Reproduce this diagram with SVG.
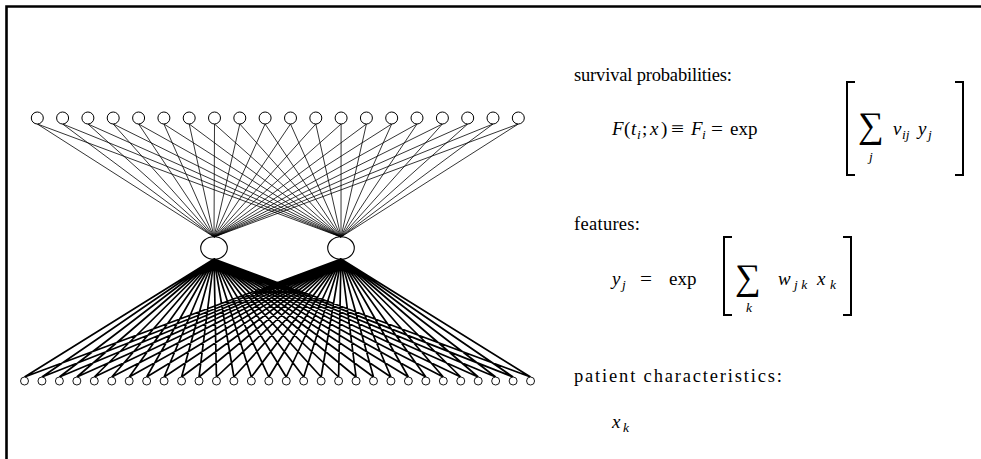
<svg xmlns="http://www.w3.org/2000/svg" width="981" height="459" viewBox="0 0 981 459">
<style>
.bg{fill:#fff}
.frame{stroke:#000;stroke-width:2.6;fill:none}
.out{fill:#fff;stroke:#000;stroke-width:1}
.hid{fill:none;stroke:#000;stroke-width:1.1}
.inp{fill:#fff;stroke:#000;stroke-width:0.9}
.wt{stroke:#000;stroke-width:0.8;fill:none}
.wb{stroke:#000;stroke-width:1.7;fill:none}
.br{stroke:#000;stroke-width:2;fill:none;stroke-linecap:square}
text{font-family:"Liberation Serif","Times New Roman",serif;fill:#000;font-size:19px}
.lbl{font-size:18.5px}
.it{font-style:italic}
.sub{font-style:italic;font-size:13.5px}
.sum{font-size:36px}
</style>
<rect class="bg" x="0" y="0" width="981" height="459"/>
<path class="frame" d="M6.5,459 V6.5 H981"/>
<g id="connectors">
<path class="wt" d="M37.3,124L214,237M37.3,124L341,237M62.6,124L214,237M62.6,124L341,237M87.9,124L214,237M87.9,124L341,237M113.2,124L214,237M113.2,124L341,237M138.6,124L214,237M138.6,124L341,237M163.9,124L214,237M163.9,124L341,237M189.2,124L214,237M189.2,124L341,237M214.5,124L214,237M214.5,124L341,237M239.8,124L214,237M239.8,124L341,237M265.1,124L214,237M265.1,124L341,237M290.5,124L214,237M290.5,124L341,237M315.8,124L214,237M315.8,124L341,237M341.1,124L214,237M341.1,124L341,237M366.4,124L214,237M366.4,124L341,237M391.7,124L214,237M391.7,124L341,237M417,124L214,237M417,124L341,237M442.4,124L214,237M442.4,124L341,237M467.7,124L214,237M467.7,124L341,237M493,124L214,237M493,124L341,237M518.3,124L214,237M518.3,124L341,237"/>
<path class="wb" d="M24.5,377L214,259M24.5,377L341,259M41.95,377L214,259M41.95,377L341,259M59.4,377L214,259M59.4,377L341,259M76.85,377L214,259M76.85,377L341,259M94.3,377L214,259M94.3,377L341,259M111.75,377L214,259M111.75,377L341,259M129.2,377L214,259M129.2,377L341,259M146.65,377L214,259M146.65,377L341,259M164.1,377L214,259M164.1,377L341,259M181.55,377L214,259M181.55,377L341,259M199,377L214,259M199,377L341,259M216.45,377L214,259M216.45,377L341,259M233.9,377L214,259M233.9,377L341,259M251.35,377L214,259M251.35,377L341,259M268.8,377L214,259M268.8,377L341,259M286.25,377L214,259M286.25,377L341,259M303.7,377L214,259M303.7,377L341,259M321.15,377L214,259M321.15,377L341,259M338.6,377L214,259M338.6,377L341,259M356.05,377L214,259M356.05,377L341,259M373.5,377L214,259M373.5,377L341,259M390.95,377L214,259M390.95,377L341,259M408.4,377L214,259M408.4,377L341,259M425.85,377L214,259M425.85,377L341,259M443.3,377L214,259M443.3,377L341,259M460.75,377L214,259M460.75,377L341,259M478.2,377L214,259M478.2,377L341,259M495.65,377L214,259M495.65,377L341,259M513.1,377L214,259M513.1,377L341,259M530.55,377L214,259M530.55,377L341,259"/>
</g>
<g id="out1"><circle class="out" cx="37.3" cy="118" r="6"/></g>
<g id="out2"><circle class="out" cx="62.6" cy="118" r="6"/></g>
<g id="out3"><circle class="out" cx="87.9" cy="118" r="6"/></g>
<g id="out4"><circle class="out" cx="113.2" cy="118" r="6"/></g>
<g id="out5"><circle class="out" cx="138.6" cy="118" r="6"/></g>
<g id="out6"><circle class="out" cx="163.9" cy="118" r="6"/></g>
<g id="out7"><circle class="out" cx="189.2" cy="118" r="6"/></g>
<g id="out8"><circle class="out" cx="214.5" cy="118" r="6"/></g>
<g id="out9"><circle class="out" cx="239.8" cy="118" r="6"/></g>
<g id="out10"><circle class="out" cx="265.1" cy="118" r="6"/></g>
<g id="out11"><circle class="out" cx="290.5" cy="118" r="6"/></g>
<g id="out12"><circle class="out" cx="315.8" cy="118" r="6"/></g>
<g id="out13"><circle class="out" cx="341.1" cy="118" r="6"/></g>
<g id="out14"><circle class="out" cx="366.4" cy="118" r="6"/></g>
<g id="out15"><circle class="out" cx="391.7" cy="118" r="6"/></g>
<g id="out16"><circle class="out" cx="417" cy="118" r="6"/></g>
<g id="out17"><circle class="out" cx="442.4" cy="118" r="6"/></g>
<g id="out18"><circle class="out" cx="467.7" cy="118" r="6"/></g>
<g id="out19"><circle class="out" cx="493" cy="118" r="6"/></g>
<g id="out20"><circle class="out" cx="518.3" cy="118" r="6"/></g>
<g id="hid1"><ellipse class="hid" cx="214" cy="248" rx="13.3" ry="11.3"/></g>
<g id="hid2"><ellipse class="hid" cx="341" cy="248" rx="13.3" ry="11.3"/></g>
<g id="in1"><circle class="inp" cx="24.5" cy="381" r="4"/></g>
<g id="in2"><circle class="inp" cx="41.95" cy="381" r="4"/></g>
<g id="in3"><circle class="inp" cx="59.4" cy="381" r="4"/></g>
<g id="in4"><circle class="inp" cx="76.85" cy="381" r="4"/></g>
<g id="in5"><circle class="inp" cx="94.3" cy="381" r="4"/></g>
<g id="in6"><circle class="inp" cx="111.75" cy="381" r="4"/></g>
<g id="in7"><circle class="inp" cx="129.2" cy="381" r="4"/></g>
<g id="in8"><circle class="inp" cx="146.65" cy="381" r="4"/></g>
<g id="in9"><circle class="inp" cx="164.1" cy="381" r="4"/></g>
<g id="in10"><circle class="inp" cx="181.55" cy="381" r="4"/></g>
<g id="in11"><circle class="inp" cx="199" cy="381" r="4"/></g>
<g id="in12"><circle class="inp" cx="216.45" cy="381" r="4"/></g>
<g id="in13"><circle class="inp" cx="233.9" cy="381" r="4"/></g>
<g id="in14"><circle class="inp" cx="251.35" cy="381" r="4"/></g>
<g id="in15"><circle class="inp" cx="268.8" cy="381" r="4"/></g>
<g id="in16"><circle class="inp" cx="286.25" cy="381" r="4"/></g>
<g id="in17"><circle class="inp" cx="303.7" cy="381" r="4"/></g>
<g id="in18"><circle class="inp" cx="321.15" cy="381" r="4"/></g>
<g id="in19"><circle class="inp" cx="338.6" cy="381" r="4"/></g>
<g id="in20"><circle class="inp" cx="356.05" cy="381" r="4"/></g>
<g id="in21"><circle class="inp" cx="373.5" cy="381" r="4"/></g>
<g id="in22"><circle class="inp" cx="390.95" cy="381" r="4"/></g>
<g id="in23"><circle class="inp" cx="408.4" cy="381" r="4"/></g>
<g id="in24"><circle class="inp" cx="425.85" cy="381" r="4"/></g>
<g id="in25"><circle class="inp" cx="443.3" cy="381" r="4"/></g>
<g id="in26"><circle class="inp" cx="460.75" cy="381" r="4"/></g>
<g id="in27"><circle class="inp" cx="478.2" cy="381" r="4"/></g>
<g id="in28"><circle class="inp" cx="495.65" cy="381" r="4"/></g>
<g id="in29"><circle class="inp" cx="513.1" cy="381" r="4"/></g>
<g id="in30"><circle class="inp" cx="530.55" cy="381" r="4"/></g>
<g id="labels">
<text class="lbl" x="574" y="81" textLength="158" lengthAdjust="spacing">survival probabilities:</text>
<text class="it" x="612" y="135">F</text>
<text x="624" y="135">(</text>
<text class="it" x="631" y="135">t</text>
<text class="sub" x="637" y="139">i</text>
<text x="642" y="135">;</text>
<text class="it" x="650" y="135">x</text>
<text x="661" y="135">)</text>
<text x="671" y="135" textLength="13" lengthAdjust="spacingAndGlyphs">≡</text>
<text class="it" x="691" y="135">F</text>
<text class="sub" x="702" y="139">i</text>
<text x="711" y="135" textLength="12" lengthAdjust="spacingAndGlyphs">=</text>
<text x="730" y="135">exp</text>
<path class="br" d="M854,82H847V175H854"/>
<text class="sum" x="858" y="137">∑</text>
<text class="sub" x="869" y="161">j</text>
<text class="it" x="893" y="135">v</text>
<text class="sub" x="902" y="139">ij</text>
<text class="it" x="918" y="135">y</text>
<text class="sub" x="928" y="139">j</text>
<path class="br" d="M956,82H963V175H956"/>
<text class="lbl" x="574" y="230" textLength="66" lengthAdjust="spacing">features:</text>
<text class="it" x="612" y="285">y</text>
<text class="sub" x="622" y="289">j</text>
<text x="640" y="285" textLength="12" lengthAdjust="spacingAndGlyphs">=</text>
<text x="669" y="285">exp</text>
<path class="br" d="M731,237H724V315H731"/>
<text class="sum" x="735" y="289">∑</text>
<text class="sub" x="746" y="312">k</text>
<text class="it" x="778" y="285">w</text>
<text class="sub" x="794" y="289">j k</text>
<text class="it" x="817" y="285">x</text>
<text class="sub" x="830" y="289">k</text>
<path class="br" d="M844,237H851V315H844"/>
<text class="lbl" x="574" y="382" textLength="208" lengthAdjust="spacing">patient characteristics:</text>
<text class="it" x="612" y="428">x</text>
<text class="sub" x="623" y="432">k</text>
</g>
</svg>
